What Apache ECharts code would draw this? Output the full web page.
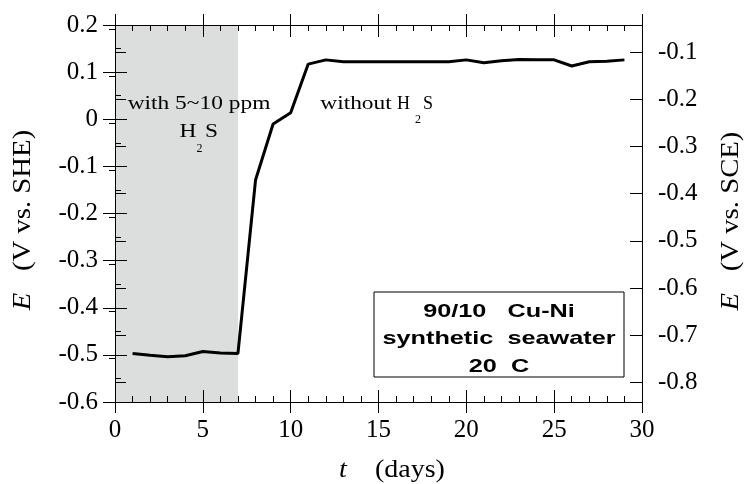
<!DOCTYPE html>
<html>
<head>
<meta charset="utf-8">
<script src="https://cdn.jsdelivr.net/npm/echarts@6/dist/echarts.min.js"></script>
<style>
    html, body { margin: 0; padding: 0; background: #fff; }
    #chart { width: 746px; height: 484px; }
</style>
</head>
<body>
<div id="chart"></div>
<script>
// potential vs. time, 90/10 Cu-Ni in synthetic seawater
const days = [1, 2, 3, 4, 5, 6, 7, 8, 9, 10, 11, 12, 13, 14, 15, 16, 17, 18, 19, 20, 21, 22, 23, 24, 25, 26, 27, 28, 29];
const potentialSHE = [-0.497, -0.501, -0.504, -0.502, -0.493, -0.496, -0.497, -0.129, -0.010, 0.014, 0.117, 0.126, 0.122,
    0.122, 0.122, 0.122, 0.122, 0.122, 0.122, 0.126, 0.120, 0.124, 0.127, 0.126, 0.126, 0.113, 0.122, 0.123, 0.126];
const h2sPeriod = [0, 7];
const sceMajorTicks = [-0.1, -0.2, -0.3, -0.4, -0.5, -0.6, -0.7, -0.8];
const sceMinorTicks = [-0.05, -0.15, -0.25, -0.35, -0.45, -0.55, -0.65, -0.75];
const sceOffset = 0.242;

const serif = "'Liberation Serif', 'DejaVu Serif', serif";
const sans = "'Liberation Sans', Arial, sans-serif";
const black = "#000";

const chart = echarts.init(document.getElementById("chart"));

const labelStyle = { color: black, fontFamily: serif, fontSize: 25 };

function xAxisPart(position, inside, withLabels) {
    return {
        type: "value", position, min: 0, max: 30, interval: 5, offset: 0, z: 10,
        splitLine: { show: false },
        axisLine: { show: inside, onZero: false, lineStyle: { color: black, width: 1 } },
        axisTick: { inside, length: inside ? 12 : 11, lineStyle: { color: black } },
        minorTick: { show: inside, splitNumber: 5, length: 6, lineStyle: { color: black } },
        axisLabel: withLabels ? { ...labelStyle, margin: 16 } : { show: false }
    };
}

const xAxis = [
    xAxisPart("bottom", true, true),
    xAxisPart("bottom", false, false),
    xAxisPart("top", true, false),
    xAxisPart("top", false, false)
];

const sceMin = -0.6 - sceOffset;
const sceMax = 0.2 - sceOffset;

function sceAxis(extra) {
    return {
        type: "value", position: "right", min: sceMin, max: sceMax, offset: 0, z: 10,
        splitLine: { show: false },
        axisLine: { show: false },
        axisLabel: { show: false },
        ...extra
    };
}

const yAxis = [
    {
        type: "value", position: "left", min: -0.6, max: 0.2, interval: 0.1, offset: 0, z: 10,
        splitLine: { show: false },
        axisLine: { show: true, onZero: false, lineStyle: { color: black } },
        axisTick: { inside: true, length: 12, lineStyle: { color: black } },
        minorTick: { show: true, splitNumber: 2, length: 6, lineStyle: { color: black } },
        axisLabel: { ...labelStyle, margin: 17, formatter: v => String(Math.round(v * 10) / 10) }
    },
    {
        type: "value", position: "left", min: -0.6, max: 0.2, interval: 0.1, offset: 0, z: 10,
        splitLine: { show: false },
        axisLine: { show: false },
        axisTick: { inside: false, length: 12, lineStyle: { color: black } },
        axisLabel: { show: false }
    },
    sceAxis({
        axisLine: { show: true, onZero: false, lineStyle: { color: black } },
        axisTick: { inside: true, length: 12, customValues: sceMajorTicks, lineStyle: { color: black } },
        axisLabel: { ...labelStyle, margin: 16, customValues: sceMajorTicks, formatter: v => v.toFixed(1) }
    }),
    sceAxis({ axisTick: { inside: false, length: 11, customValues: sceMajorTicks, lineStyle: { color: black } } }),
    sceAxis({ axisTick: { inside: true, length: 6, customValues: sceMinorTicks, lineStyle: { color: black } } })
];

// the original lettering is wider than Liberation Serif, so texts get stretched a bit
const note = (text, x, y, size, scaleX) => ({
    type: "text", x, y, z: 20, scaleX: scaleX || 1,
    style: { text, font: size + "px " + serif, fill: black, align: "center", verticalAlign: "middle" }
});
const boxLine = (text, y) => ({
    type: "text", x: 499, y, scaleX: 1.33, z: 21,
    style: { text, font: "bold 19px " + sans, fill: black, align: "center", verticalAlign: "middle" }
});
const italicRich = { i: { fontStyle: "italic", fontFamily: serif, fontSize: 25, fill: black } };
const axisTitle = (text, x, y, rotation, scaleX) => ({
    type: "text", x, y, rotation, scaleX, z: 20,
    style: { text, rich: italicRich, fontFamily: serif, fontSize: 25, fill: black, align: "center", verticalAlign: "middle" }
});

chart.setOption({
    animation: false,
    backgroundColor: "#fff",
    grid: { left: 115, right: 104, top: 25, bottom: 82, outerBoundsMode: "none" },
    xAxis,
    yAxis,
    graphic: [
        axisTitle("{i|E}   (V vs. SHE)", 23, 220, Math.PI / 2, 1.15),
        axisTitle("{i|E}   (V vs. SCE)", 731, 221, Math.PI / 2, 1.15),
        axisTitle("{i|t}    (days)", 392, 470, 0, 1.12),
        note("with 5~10 ppm", 199, 104, 18, 1.3),
        note("H", 188, 132, 18, 1.3),
        note("2", 199.5, 149, 12),
        note("S", 211.5, 132, 18, 1.3),
        note("without", 356, 104, 18, 1.3),
        note("H", 403.5, 104, 18),
        note("2", 418, 120, 12),
        note("S", 428, 104, 18),
        { type: "rect", z: 20, shape: { x: 374, y: 292, width: 250, height: 85 }, style: { fill: "#fff", stroke: black, lineWidth: 1 } },
        boxLine("90/10   Cu-Ni", 312),
        boxLine("synthetic  seawater", 339),
        boxLine("20  C", 367)
    ],
    series: [{
        type: "line",
        xAxisIndex: 0,
        yAxisIndex: 0,
        data: days.map((d, i) => [d, potentialSHE[i]]),
        showSymbol: false,
        lineStyle: { color: black, width: 3 },
        z: 5,
        markArea: {
            silent: true,
            itemStyle: { color: "#dcdddd" },
            data: [[{ xAxis: h2sPeriod[0], yAxis: -0.6 }, { xAxis: h2sPeriod[1], yAxis: 0.2 }]]
        }
    }]
});

window.addEventListener("resize", () => chart.resize());
</script>
</body>
</html>
